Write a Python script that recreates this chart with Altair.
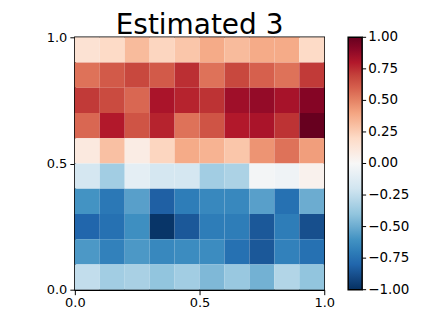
import altair as alt
import pandas as pd

# rows listed top to bottom, 10 columns each
row_values = [
    [0.15, 0.20, 0.32, 0.22, 0.28, 0.38, 0.32, 0.38, 0.38, 0.20],
    [0.55, 0.62, 0.68, 0.62, 0.75, 0.55, 0.68, 0.60, 0.55, 0.72],
    [0.72, 0.67, 0.58, 0.82, 0.78, 0.74, 0.85, 0.88, 0.83, 0.92],
    [0.58, 0.80, 0.64, 0.78, 0.55, 0.64, 0.80, 0.82, 0.74, 1.00],
    [0.10, 0.30, 0.08, 0.22, 0.38, 0.35, 0.28, 0.45, 0.55, 0.42],
    [-0.18, -0.35, -0.10, -0.18, -0.18, -0.35, -0.32, -0.02, -0.04, 0.04],
    [-0.60, -0.72, -0.55, -0.82, -0.70, -0.65, -0.65, -0.55, -0.75, -0.50],
    [-0.80, -0.75, -0.62, -0.98, -0.85, -0.70, -0.70, -0.85, -0.70, -0.88],
    [-0.58, -0.68, -0.58, -0.65, -0.63, -0.63, -0.75, -0.85, -0.68, -0.75],
    [-0.25, -0.35, -0.33, -0.40, -0.35, -0.45, -0.38, -0.48, -0.30, -0.40],
]
axis_ticks = [0.0, 0.5, 1.0]
legend_ticks = [-1.0, -0.75, -0.5, -0.25, 0.0, 0.25, 0.5, 0.75, 1.0]
title_text = "Estimated 3"

# RdBu (reversed) palette stops
palette = ["#053061", "#2166ac", "#4393c3", "#92c5de", "#d1e5f0", "#f7f7f7",
           "#fddbc7", "#f4a582", "#d6604d", "#b2182b", "#67001f"]
palette_domain = [-1.0, -0.8, -0.6, -0.4, -0.2, 0.0, 0.2, 0.4, 0.6, 0.8, 1.0]

n = len(row_values)
records = []
for r, row in enumerate(row_values):
    for c, v in enumerate(row):
        records.append({
            "x": c / n, "x2": (c + 1) / n,
            "y": 1 - (r + 1) / n, "y2": 1 - r / n,
            "value": v,
        })
df = pd.DataFrame(records)
ticks_df = pd.DataFrame({"t": legend_ticks})

font = "DejaVu Sans"
axis_common = dict(
    values=axis_ticks, format=".1f", labelFontSize=13, labelFont=font,
    labelColor="black", tickColor="black", domainColor="black",
    domainWidth=1.5, tickWidth=1, tickSize=5, grid=False, title=None,
    labelFlush=False,
)

heat = alt.Chart(df).mark_rect(strokeWidth=0).encode(
    x=alt.X("x:Q", scale=alt.Scale(domain=[0, 1], nice=False),
            axis=alt.Axis(labelPadding=2, **axis_common)),
    x2="x2:Q",
    y=alt.Y("y:Q", scale=alt.Scale(domain=[0, 1], nice=False),
            axis=alt.Axis(labelPadding=3, **axis_common)),
    y2="y2:Q",
    color=alt.Color(
        "value:Q",
        scale=alt.Scale(domain=palette_domain, range=palette),
        legend=alt.Legend(
            title=None, orient="none", legendX=274, legendY=0,
            direction="vertical", gradientLength=253, gradientThickness=14,
            gradientStrokeColor="black", gradientStrokeWidth=1.5,
            labelExpr="''", labelOpacity=0, values=[0.0],
        ),
    ),
)

cb_y = alt.Y("t:Q", scale=alt.Scale(domain=[-1, 1], nice=False), axis=None)

cb_ticks = alt.Chart(ticks_df).mark_rule(color="black", strokeWidth=1).encode(
    x=alt.value(288), x2=alt.value(292), y=cb_y,
)

cb_labels = alt.Chart(ticks_df).transform_calculate(
    lab="format(datum.t, '.2f')"
).mark_text(align="left", baseline="middle", font=font, fontSize=13.5,
            color="black").encode(
    x=alt.value(294), y=cb_y, text="lab:N",
)

chart = alt.layer(heat, alt.layer(cb_ticks, cb_labels)).resolve_scale(
    y="independent"
).properties(
    width=250, height=253,
    title=alt.TitleParams(title_text, fontSize=28, font=font,
                          fontWeight="normal", color="black", offset=-10),
    autosize=alt.AutoSizeParams(type="none"),
    padding={"left": 67, "top": 29, "right": 100, "bottom": 25},
).configure_view(stroke="black", strokeWidth=1.5)

chart.save("out.html", embed_options={"renderer": "svg", "actions": False})
